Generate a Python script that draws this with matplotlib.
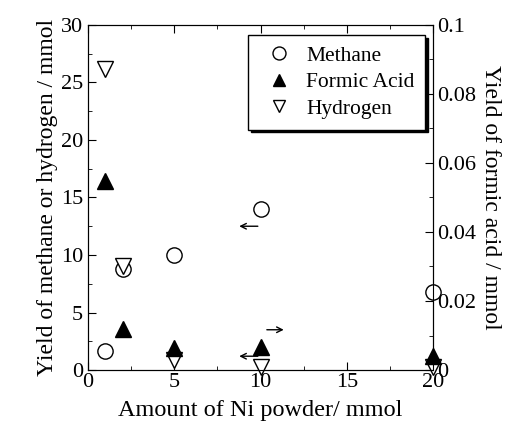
import matplotlib
matplotlib.use("Agg")
import matplotlib.pyplot as plt
from matplotlib.ticker import MultipleLocator

plt.rcParams['font.family'] = ['Liberation Serif', 'DejaVu Serif']
plt.rcParams['mathtext.fontset'] = 'stix'

ni_amount = [1, 2, 5, 10, 20]
methane = [1.65, 8.8, 10.0, 14.0, 6.8]
hydrogen = [26.2, 9.0, 0.9, 0.3, 0.3]
formic_acid = [0.0547, 0.012, 0.0063, 0.0067, 0.004]

fig = plt.figure(figsize=(5.09, 4.30), dpi=100)
ax = fig.add_axes([0.173, 0.1395, 0.678, 0.8025])
ax2 = ax.twinx()

ms = 11
h1, = ax.plot(ni_amount, methane, 'o', ms=ms, mfc='white', mec='black', mew=1.0,
              label='Methane', zorder=3, clip_on=False)
h3, = ax.plot(ni_amount, hydrogen, 'v', ms=ms, mfc='white', mec='black', mew=1.0,
              label='Hydrogen', zorder=3, clip_on=False)
h2, = ax2.plot(ni_amount, formic_acid, '^', ms=ms, mfc='black', mec='black',
               label='Formic Acid', zorder=3, clip_on=False)

ax.set_xlim(0, 20)
ax.set_ylim(0, 30)
ax2.set_ylim(0, 0.1)

ax.xaxis.set_major_locator(MultipleLocator(5))
ax.xaxis.set_minor_locator(MultipleLocator(2.5))
ax.yaxis.set_major_locator(MultipleLocator(5))
ax.yaxis.set_minor_locator(MultipleLocator(2.5))
ax2.yaxis.set_minor_locator(MultipleLocator(0.01))
ax2.set_yticks([0, 0.02, 0.04, 0.06, 0.08, 0.1])
ax2.set_yticklabels(['0', '0.02', '0.04', '0.06', '0.08', '0.1'])

for a in (ax, ax2):
    a.tick_params(which='both', direction='in', labelsize=16)
    a.tick_params(which='major', length=6)
    a.tick_params(which='minor', length=3)
ax.tick_params(which='both', top=True)
ax.tick_params(axis='y', which='both', right=False)
ax.tick_params(axis='x', pad=2)
ax2.tick_params(axis='y', pad=3)

ax.set_xlabel('Amount of Ni powder/ mmol', fontsize=17.5, labelpad=6)
ax.set_ylabel('Yield of methane or hydrogen / mmol', fontsize=17, labelpad=2)
ax2.set_ylabel('Yield of formic acid / mmol', fontsize=17, rotation=-90, labelpad=18)

arrow = dict(arrowstyle='->', color='black', lw=1.0)
ax.annotate('', xy=(8.6, 12.5), xytext=(10.0, 12.5), arrowprops=arrow)
ax.annotate('', xy=(8.6, 1.2), xytext=(10.0, 1.2), arrowprops=arrow)
ax.annotate('', xy=(11.5, 3.5), xytext=(10.2, 3.5), arrowprops=arrow)

leg = ax.legend([h1, h2, h3], ['Methane', 'Formic Acid', 'Hydrogen'],
                loc='upper right', bbox_to_anchor=(0.977, 0.971), fontsize=15.5,
                frameon=True, fancybox=False, edgecolor='black', framealpha=1,
                shadow={'color': 'black', 'alpha': 1, 'ox': 2, 'oy': -2},
                handletextpad=0.3, borderpad=0.5, labelspacing=0.3,
                markerscale=0.85, handlelength=1.9, borderaxespad=0.0)
leg.get_frame().set_linewidth(1.0)
leg.set_zorder(5)

fig.savefig('out.png', dpi=100)
